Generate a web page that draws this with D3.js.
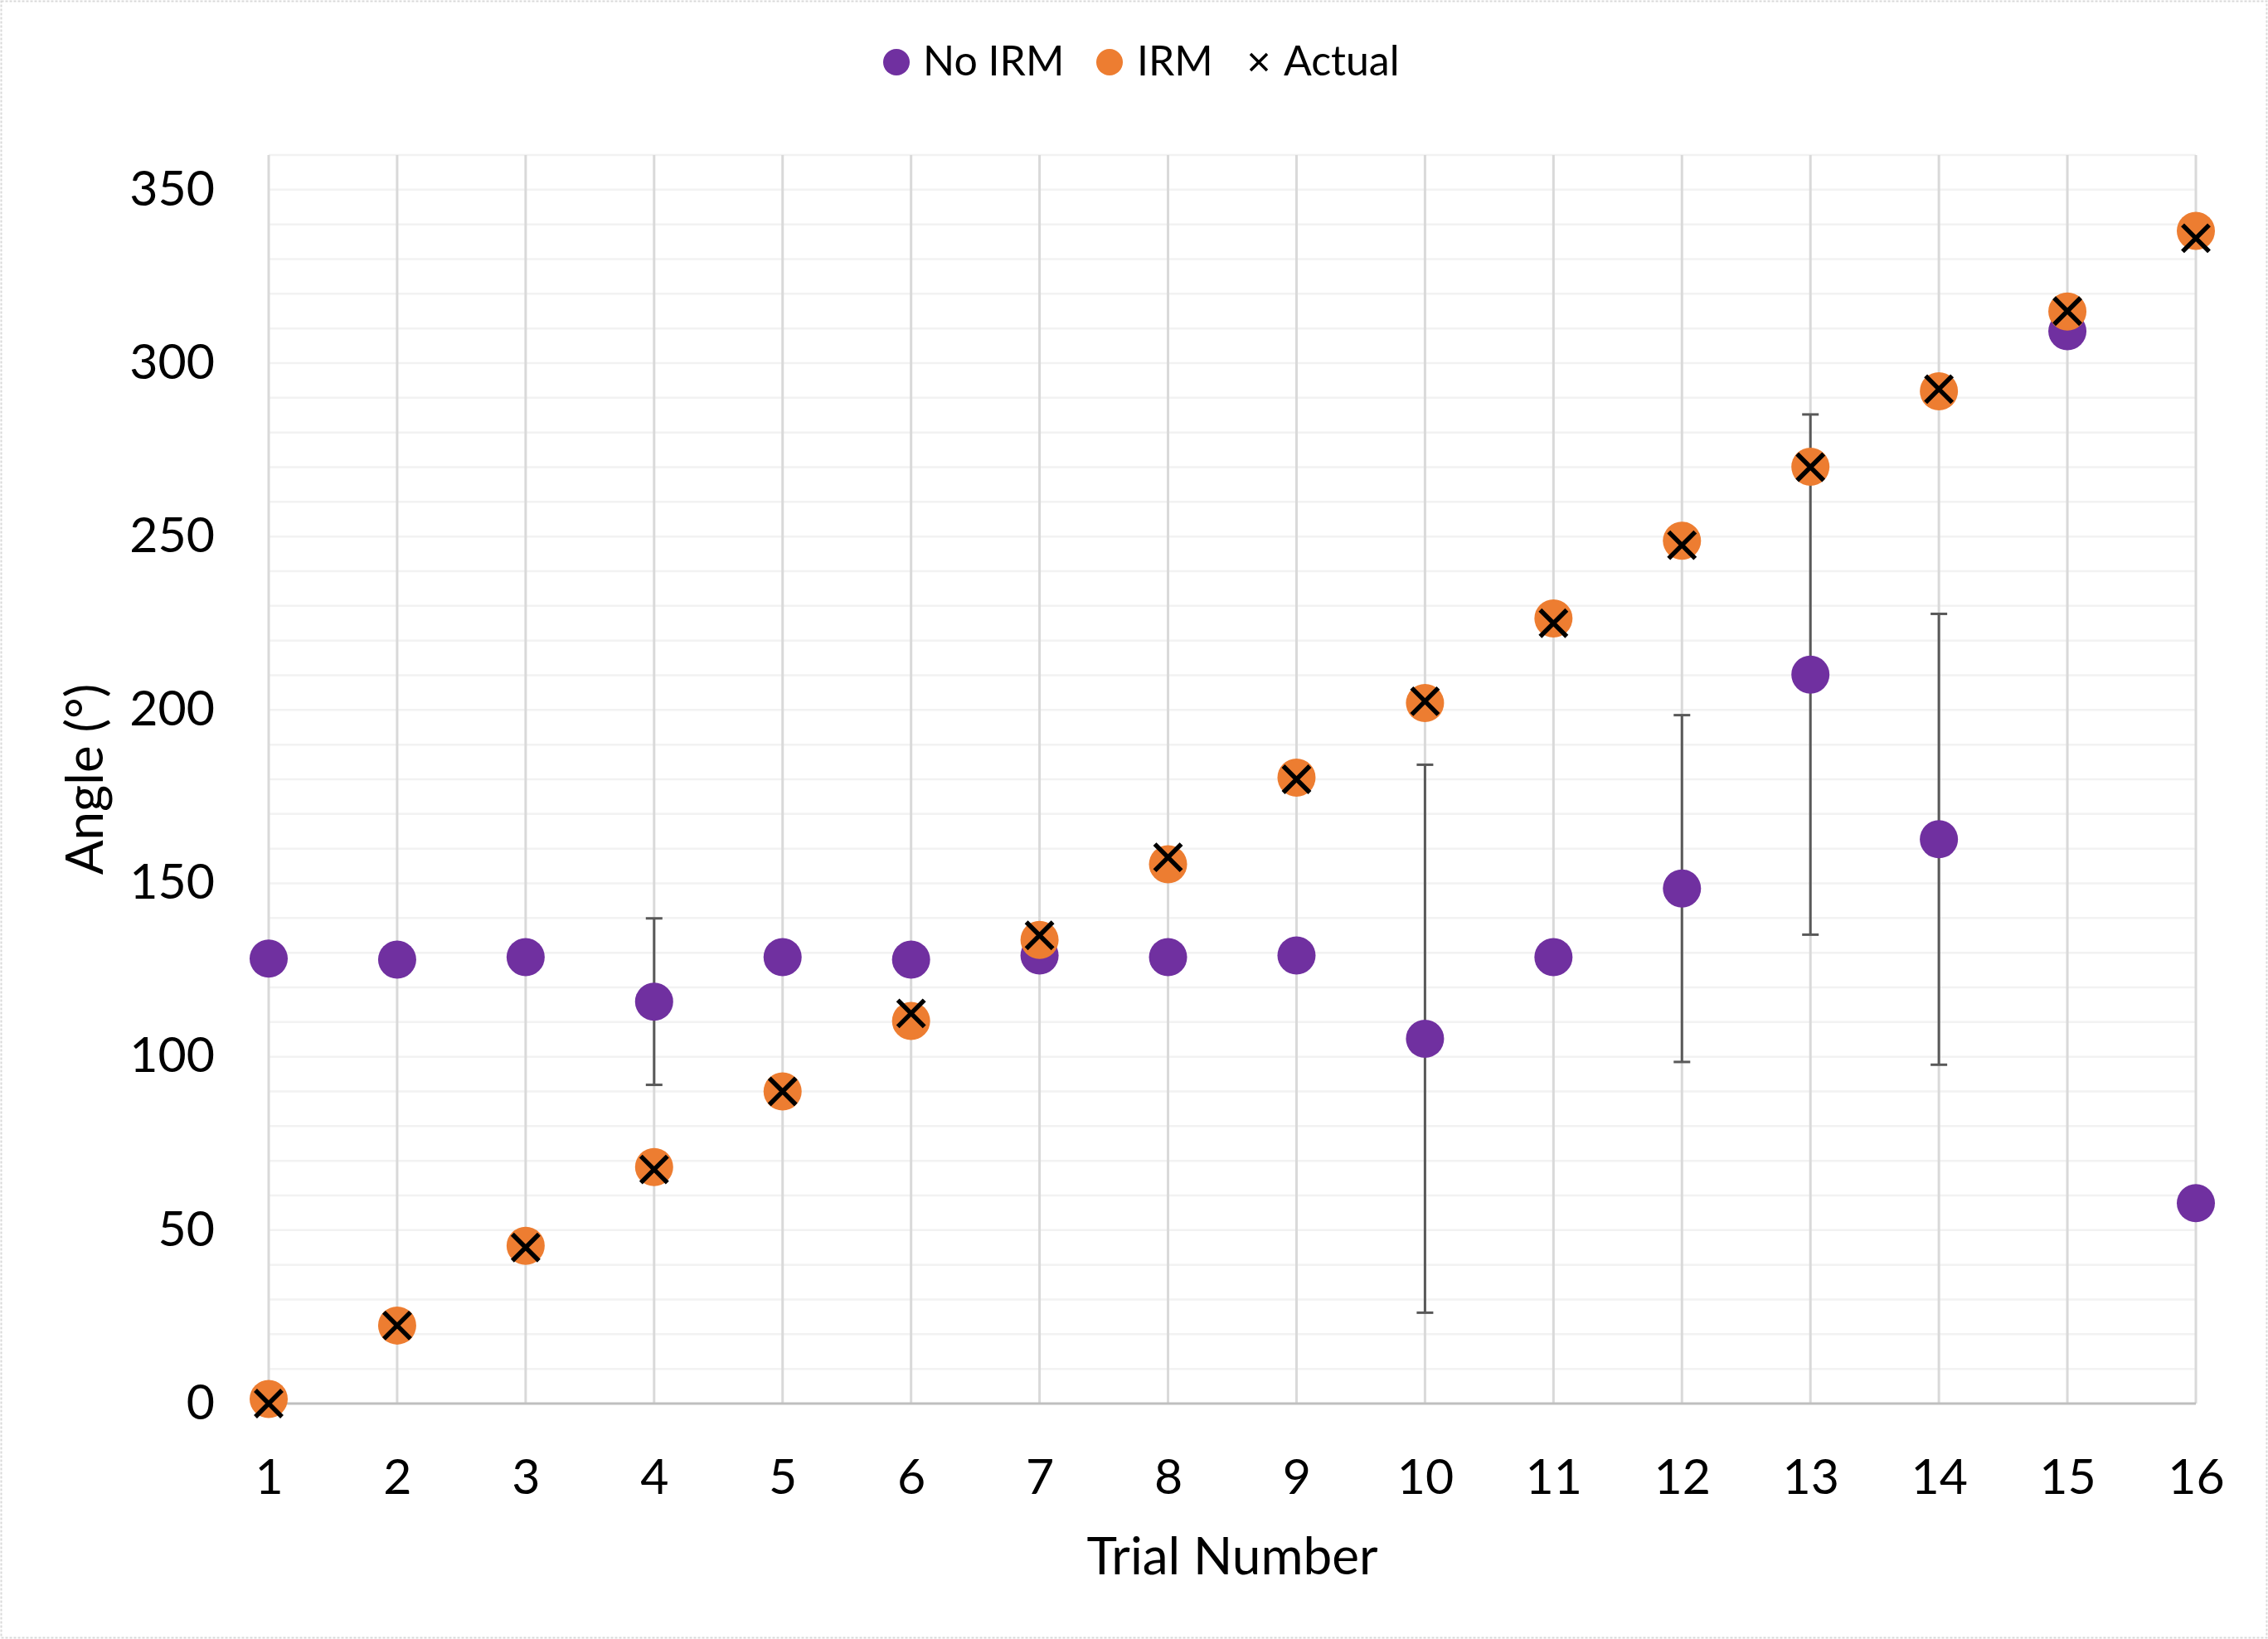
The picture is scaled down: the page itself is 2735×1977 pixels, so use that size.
<!DOCTYPE html>
<html>
<head>
<meta charset="utf-8">
<script src="https://cdn.jsdelivr.net/npm/d3@7"></script>
<style>
  html, body { margin: 0; padding: 0; background: #fff; }
  svg { display: block; }
  text { font-family: Lato, "Open Sans", sans-serif; fill: #000; }
</style>
</head>
<body>
<svg id="chart" width="2735" height="1977"></svg>
<script>
// ---- Data ----
const trials = [1, 2, 3, 4, 5, 6, 7, 8, 9, 10, 11, 12, 13, 14, 15, 16];
const noIRM = [128.3, 128.0, 128.7, 115.9, 128.7, 128.0, 129.2, 128.7, 129.2, 105.2, 128.7, 148.5, 210.2, 162.7, 309.2, 57.8];
const noIRMError = [0, 0, 0, 24, 0, 0, 0, 0, 0, 79, 0, 50, 75, 65, 0, 0];
const irm = [1.3, 22.5, 45.5, 68.2, 90.0, 110.3, 133.7, 155.5, 180.5, 202.0, 226.4, 248.8, 270.1, 291.9, 314.9, 338.1];
const actual = [0, 22.5, 45, 67.5, 90, 112.5, 135, 157.5, 180, 202.5, 225, 247.5, 270, 292.5, 315, 336];
const yTicks = [0, 50, 100, 150, 200, 250, 300, 350];
const yMinorTicks = d3.range(10, 361, 10);
const seriesNames = ["No IRM", "IRM", "Actual"];
const xTitle = "Trial Number";
const yTitle = "Angle (°)";

// ---- Layout ----
const W = 2735, H = 1977;
const plot = { left: 324, right: 2648, top: 187, bottom: 1693 };
const colors = { noIRM: "#7030A0", irm: "#ED7D31", actual: "#000000" };

const svg = d3.select("#chart");

// outer dotted border
svg.append("rect")
  .attr("x", 1.5).attr("y", 1.5).attr("width", W - 3).attr("height", H - 3)
  .attr("fill", "#fff").attr("stroke", "#d9d9d9").attr("stroke-width", 2)
  .attr("stroke-dasharray", "3,2");

const x = d3.scaleLinear().domain([1, 16]).range([plot.left, plot.right]);
const y = d3.scaleLinear().domain([0, 360]).range([plot.bottom, plot.top]);

// horizontal gridlines (every 10)
svg.append("g").selectAll("line").data(yMinorTicks).join("line")
  .attr("x1", plot.left).attr("x2", plot.right)
  .attr("y1", d => y(d)).attr("y2", d => y(d))
  .attr("stroke", "#f2f2f2").attr("stroke-width", 2.5);

// vertical gridlines at each trial
svg.append("g").selectAll("line").data(trials).join("line")
  .attr("x1", d => x(d)).attr("x2", d => x(d))
  .attr("y1", plot.top).attr("y2", plot.bottom)
  .attr("stroke", "#d9d9d9").attr("stroke-width", 3);

// zero axis line
svg.append("line")
  .attr("x1", plot.left).attr("x2", plot.right)
  .attr("y1", y(0)).attr("y2", y(0))
  .attr("stroke", "#bfbfbf").attr("stroke-width", 3);

// Y axis labels
const yAxis = svg.append("g")
  .attr("transform", `translate(${plot.left - 65},0)`)
  .call(d3.axisLeft(y).tickValues(yTicks).tickSize(0).tickPadding(0).tickFormat(d3.format("d")));
yAxis.select(".domain").remove();
yAxis.selectAll("text")
  .attr("x", 0).attr("dy", "0.31em")
  .style("font-size", "59px").style("font-family", "Lato, 'Open Sans', sans-serif")
  .attr("fill", "#000");

// X axis labels
const xAxis = svg.append("g")
  .attr("transform", `translate(0,${plot.bottom})`)
  .call(d3.axisBottom(x).tickValues(trials).tickSize(0).tickPadding(0).tickFormat(d3.format("d")));
xAxis.select(".domain").remove();
xAxis.selectAll("text")
  .attr("y", 109).attr("dy", 0)
  .style("font-size", "59px").style("font-family", "Lato, 'Open Sans', sans-serif")
  .attr("fill", "#000");

// Axis titles
svg.append("text")
  .attr("x", (plot.left + plot.right) / 2).attr("y", 1899)
  .attr("text-anchor", "middle").style("font-size", "62px")
  .text(xTitle);
svg.append("text")
  .attr("transform", `translate(124,${(plot.top + plot.bottom) / 2}) rotate(-90)`)
  .attr("text-anchor", "middle").style("font-size", "62px")
  .text(yTitle);

// Error bars for No IRM
const errData = trials.map((t, i) => ({ t, v: noIRM[i], e: noIRMError[i] })).filter(d => d.e > 0);
const eb = svg.append("g").attr("stroke", "#595959").attr("stroke-width", 3);
eb.selectAll("line.v").data(errData).join("line").attr("class", "v")
  .attr("x1", d => x(d.t)).attr("x2", d => x(d.t))
  .attr("y1", d => y(d.v + d.e)).attr("y2", d => y(d.v - d.e));
eb.selectAll("line.top").data(errData).join("line").attr("class", "top")
  .attr("x1", d => x(d.t) - 10).attr("x2", d => x(d.t) + 10)
  .attr("y1", d => y(d.v + d.e)).attr("y2", d => y(d.v + d.e));
eb.selectAll("line.bot").data(errData).join("line").attr("class", "bot")
  .attr("x1", d => x(d.t) - 10).attr("x2", d => x(d.t) + 10)
  .attr("y1", d => y(d.v - d.e)).attr("y2", d => y(d.v - d.e));

// No IRM points
svg.append("g").selectAll("circle").data(trials.map((t, i) => [t, noIRM[i]])).join("circle")
  .attr("cx", d => x(d[0])).attr("cy", d => y(d[1])).attr("r", 23)
  .attr("fill", colors.noIRM);

// IRM points
svg.append("g").selectAll("circle").data(trials.map((t, i) => [t, irm[i]])).join("circle")
  .attr("cx", d => x(d[0])).attr("cy", d => y(d[1])).attr("r", 23)
  .attr("fill", colors.irm);

// Actual (x markers)
const xs = 16;
const crossPath = s => `M${-s},${-s}L${s},${s}M${-s},${s}L${s},${-s}`;
svg.append("g").selectAll("path").data(trials.map((t, i) => [t, actual[i]])).join("path")
  .attr("transform", d => `translate(${x(d[0])},${y(d[1])})`)
  .attr("d", crossPath(xs))
  .attr("stroke", colors.actual).attr("stroke-width", 5.5).attr("fill", "none");

// Legend
const leg = svg.append("g");
const legY = 75;
leg.append("circle").attr("cx", 1081).attr("cy", legY).attr("r", 16).attr("fill", colors.noIRM);
leg.append("text").attr("x", 1113).attr("y", 91).style("font-size", "50px").text(seriesNames[0]);
leg.append("circle").attr("cx", 1338).attr("cy", legY).attr("r", 16).attr("fill", colors.irm);
leg.append("text").attr("x", 1371).attr("y", 91).style("font-size", "50px").text(seriesNames[1]);
leg.append("path").attr("transform", `translate(1518,${legY})`).attr("d", crossPath(10))
  .attr("stroke", "#000").attr("stroke-width", 3.5).attr("fill", "none");
leg.append("text").attr("x", 1548).attr("y", 91).style("font-size", "50px").text(seriesNames[2]);
</script>
</body>
</html>
